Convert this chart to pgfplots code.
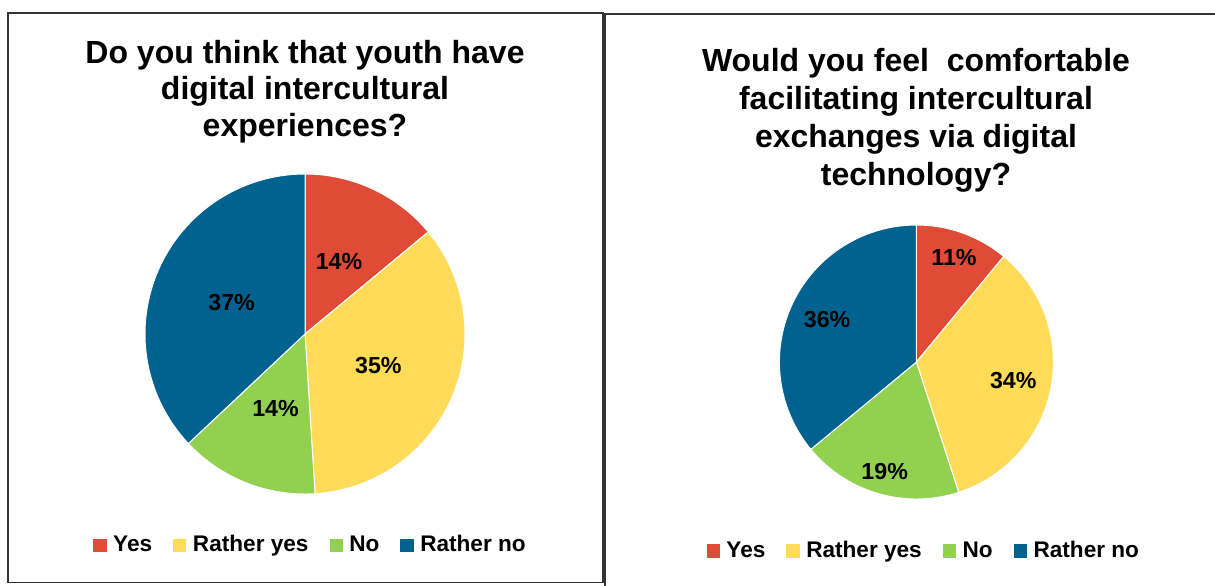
\documentclass[border=0pt]{standalone}
\usepackage{pgfplots}
\pgfplotsset{compat=1.18}
\usepackage{fontspec}
\setmainfont{Liberation Sans}
\definecolor{cyes}{HTML}{E04B38}
\definecolor{cryes}{HTML}{FFDB58}
\definecolor{cno}{HTML}{92D050}
\definecolor{crno}{HTML}{02628F}
\definecolor{frame}{HTML}{333333}

% cumulative share, reset for each pie
\newcommand\cum{0}
% #1 value (%), #2 colour, #3 label radius (fraction of R), #4 legend text
\newcommand\pieslice[4]{%
  \pgfmathsetmacro\sa{90-3.6*\cum}%
  \pgfmathsetmacro\ea{90-3.6*(\cum+#1)}%
  \pgfmathsetmacro\ma{(\sa+\ea)/2}%
  \pgfmathsetmacro\lx{#3*cos(\ma)}%
  \pgfmathsetmacro\ly{#3*sin(\ma)}%
  \edef\doslice{%
    \noexpand\addplot[fill=#2, draw=white, line width=0.5pt, domain=\ea:\sa, samples=120]
      ({cos(x)},{sin(x)}) -- (axis cs:0,0) -- cycle;
    \noexpand\addlegendentry{#4}
    \noexpand\node[pielabel] at (axis cs:\lx,\ly) {#1\noexpand\%};
  }\doslice
  \pgfmathsetmacro\newcum{\cum+#1}\xdef\cum{\newcum}%
}

\pgfplotsset{
  pie/.style={
    hide axis, scale only axis, clip=false,
    xmin=-1, xmax=1, ymin=-1, ymax=1,
    anchor=center,
    legend columns=4,
    legend cell align=left,
    legend image code/.code={\fill[##1, draw=none] (0pt,-3.3pt) rectangle (6.6pt,3.3pt);},
    legend style={draw=none, fill=none, anchor=center,
      font=\fontsize{11.3}{13}\selectfont\bfseries,
      nodes={inner sep=1.5pt},
      /tikz/every odd column/.append style={column sep=1.8pt},
      /tikz/every even column/.append style={column sep=9pt}},
  },
}
\tikzset{pielabel/.style={font=\fontsize{11.6}{13}\selectfont\bfseries, text=black, inner sep=0pt}}

\begin{document}
\begin{tikzpicture}
\useasboundingbox (0,0) rectangle (607.5pt,-292.5pt);
\fill[white] (0,0) rectangle (607.5pt,-292.5pt);
% panel frames
\draw[frame, line width=0.8pt] (4pt,-6.5pt) rectangle (301.5pt,-291.3pt);
\draw[frame, line width=0.8pt] (302.5pt,-300pt) -- (302.5pt,-7pt) -- (615pt,-7pt);

% titles
\node[anchor=north, align=center, inner sep=0pt,
      font=\fontsize{16}{18.3}\selectfont\bfseries] at (152.5pt,-19.8pt)
  {Do you think that youth have\\digital intercultural\\experiences?};
\node[anchor=north, align=center, inner sep=0pt,
      font=\fontsize{16}{18.9}\selectfont\bfseries] at (458pt,-24.2pt)
  {Would you feel\ \ comfortable\\facilitating intercultural\\exchanges via digital\\technology?};

% left pie: R = 80pt
\begin{axis}[pie, at={(152.5pt,-167pt)}, width=160pt, height=160pt,
  legend style={at={(0.519,-0.16)}}]
  \renewcommand\cum{0}
  \pieslice{14}{cyes}{0.5}{Yes}
  \pieslice{35}{cryes}{0.5}{Rather yes}
  \pieslice{14}{cno}{0.5}{No}
  \pieslice{37}{crno}{0.5}{Rather no}
\end{axis}

% right pie: R = 68pt
\begin{axis}[pie, at={(458.2pt,-181pt)}, width=137pt, height=137pt,
  legend style={at={(0.529,-0.19)}}]
  \renewcommand\cum{0}
  \pieslice{11}{cyes}{0.81}{Yes}
  \pieslice{34}{cryes}{0.72}{Rather yes}
  \pieslice{19}{cno}{0.83}{No}
  \pieslice{36}{crno}{0.72}{Rather no}
\end{axis}
\end{tikzpicture}
\end{document}
